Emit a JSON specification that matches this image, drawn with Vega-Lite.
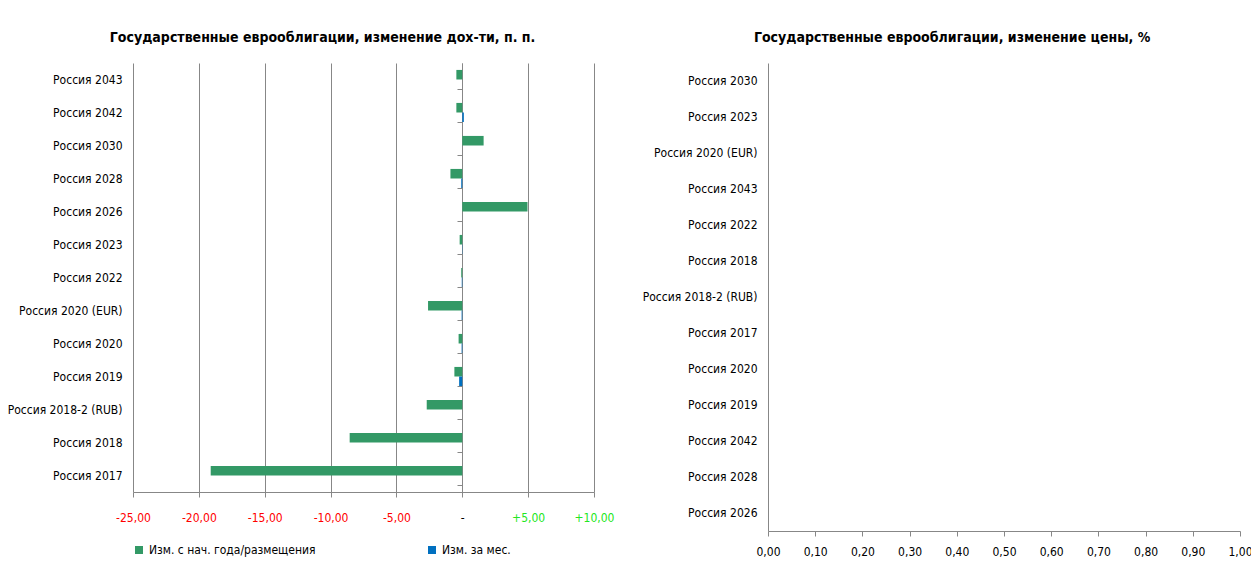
{
  "$schema": "https://vega.github.io/schema/vega-lite/v6.json",
  "padding": {"left": 7, "top": 31, "right": 5, "bottom": 0},
  "background": "white",
  "config": {
    "font": "DejaVu Sans Condensed, DejaVu Sans, sans-serif",
    "view": {"stroke": null},
    "axis": {"labelFontSize": 12, "labelColor": "black", "domainColor": "#878787", "tickColor": "#878787", "gridColor": "#878787"},
    "title": {"fontSize": 14, "fontWeight": "bold", "color": "black"},
    "legend": {"labelFontSize": 12, "labelColor": "black", "labelLimit": 0}
  },
  "datasets": {
    "left": [
      {"bond": "Россия 2043", "series": "Изм. с нач. года/размещения", "value": -0.45},
      {"bond": "Россия 2043", "series": "Изм. за мес.", "value": 0.0},
      {"bond": "Россия 2042", "series": "Изм. с нач. года/размещения", "value": -0.45},
      {"bond": "Россия 2042", "series": "Изм. за мес.", "value": 0.12},
      {"bond": "Россия 2030", "series": "Изм. с нач. года/размещения", "value": 1.62},
      {"bond": "Россия 2030", "series": "Изм. за мес.", "value": 0.0},
      {"bond": "Россия 2028", "series": "Изм. с нач. года/размещения", "value": -0.9},
      {"bond": "Россия 2028", "series": "Изм. за мес.", "value": -0.08},
      {"bond": "Россия 2026", "series": "Изм. с нач. года/размещения", "value": 4.95},
      {"bond": "Россия 2026", "series": "Изм. за мес.", "value": 0.0},
      {"bond": "Россия 2023", "series": "Изм. с нач. года/размещения", "value": -0.2},
      {"bond": "Россия 2023", "series": "Изм. за мес.", "value": -0.02},
      {"bond": "Россия 2022", "series": "Изм. с нач. года/размещения", "value": -0.08},
      {"bond": "Россия 2022", "series": "Изм. за мес.", "value": -0.04},
      {"bond": "Россия 2020 (EUR)", "series": "Изм. с нач. года/размещения", "value": -2.6},
      {"bond": "Россия 2020 (EUR)", "series": "Изм. за мес.", "value": -0.05},
      {"bond": "Россия 2020", "series": "Изм. с нач. года/размещения", "value": -0.28},
      {"bond": "Россия 2020", "series": "Изм. за мес.", "value": -0.05},
      {"bond": "Россия 2019", "series": "Изм. с нач. года/размещения", "value": -0.6},
      {"bond": "Россия 2019", "series": "Изм. за мес.", "value": -0.24},
      {"bond": "Россия 2018-2 (RUB)", "series": "Изм. с нач. года/размещения", "value": -2.7},
      {"bond": "Россия 2018-2 (RUB)", "series": "Изм. за мес.", "value": 0.0},
      {"bond": "Россия 2018", "series": "Изм. с нач. года/размещения", "value": -8.55},
      {"bond": "Россия 2018", "series": "Изм. за мес.", "value": 0.0},
      {"bond": "Россия 2017", "series": "Изм. с нач. года/размещения", "value": -19.1},
      {"bond": "Россия 2017", "series": "Изм. за мес.", "value": 0.0}
    ],
    "right": [
      {"bond": "Россия 2030", "value": 0},
      {"bond": "Россия 2023", "value": 0},
      {"bond": "Россия 2020 (EUR)", "value": 0},
      {"bond": "Россия 2043", "value": 0},
      {"bond": "Россия 2022", "value": 0},
      {"bond": "Россия 2018", "value": 0},
      {"bond": "Россия 2018-2 (RUB)", "value": 0},
      {"bond": "Россия 2017", "value": 0},
      {"bond": "Россия 2020", "value": 0},
      {"bond": "Россия 2019", "value": 0},
      {"bond": "Россия 2042", "value": 0},
      {"bond": "Россия 2028", "value": 0},
      {"bond": "Россия 2026", "value": 0}
    ]
  },
  "spacing": 28,
  "resolve": {"scale": {"color": "independent"}, "legend": {"color": "independent"}},
  "hconcat": [
    {
      "width": 461,
      "height": 429,
      "title": {"text": "Государственные еврооблигации, изменение дох-ти, п. п.", "anchor": "middle", "frame": "bounds", "offset": 18, "dx": 12},
      "data": {"name": "left"},
      "layer": [
        {
          "mark": {"type": "bar"},
          "encoding": {
            "y": {
              "field": "bond", "type": "nominal",
              "sort": ["Россия 2043", "Россия 2042", "Россия 2030", "Россия 2028", "Россия 2026", "Россия 2023", "Россия 2022", "Россия 2020 (EUR)", "Россия 2020", "Россия 2019", "Россия 2018-2 (RUB)", "Россия 2018", "Россия 2017"],
              "scale": {"paddingInner": 0.42, "paddingOuter": 0.21},
              "axis": {"title": null, "domain": false, "ticks": false, "labelPadding": 11}
            },
            "yOffset": {"field": "series", "type": "nominal", "sort": ["Изм. с нач. года/размещения", "Изм. за мес."]},
            "x": {
              "field": "value", "type": "quantitative",
              "scale": {"domain": [-25, 10], "nice": false, "zero": false},
              "axis": {
                "title": null,
                "values": [-25, -20, -15, -10, -5, 0, 5, 10],
                "grid": true,
                "tickSize": 5,
                "labelPadding": 15,
                "labelFlush": false,
                "labelExpr": "datum.value < 0 ? '-' + replace(format(abs(datum.value), '.2f'), '.', ',') : datum.value > 0 ? '+' + replace(format(datum.value, '.2f'), '.', ',') : '-'",
                "labelColor": {"condition": [{"test": "datum.value < 0", "value": "#ff0000"}, {"test": "datum.value > 0", "value": "#22e622"}], "value": "black"}
              }
            },
            "color": {
              "field": "series", "type": "nominal",
              "scale": {"domain": ["Изм. с нач. года/размещения", "Изм. за мес."], "range": ["#339966", "#0070C0"]},
              "legend": {"title": null, "orient": "bottom", "direction": "horizontal", "symbolType": "square", "symbolSize": 64, "columnPadding": 110, "offset": 21, "symbolStrokeWidth": 0}
            }
          }
        },
        {
          "mark": {"type": "point", "opacity": 0},
          "encoding": {
            "y": {
              "field": "bond", "type": "nominal",
              "sort": ["Россия 2043", "Россия 2042", "Россия 2030", "Россия 2028", "Россия 2026", "Россия 2023", "Россия 2022", "Россия 2020 (EUR)", "Россия 2020", "Россия 2019", "Россия 2018-2 (RUB)", "Россия 2018", "Россия 2017"],
              "axis": {"orient": "left", "offset": -329, "labels": false, "title": null, "domain": true, "ticks": true, "tickBand": "extent", "tickSize": 5, "grid": false}
            },
            "x": {"datum": 0, "type": "quantitative"}
          }
        }
      ],
      "resolve": {"axis": {"y": "independent"}}
    },
    {
      "width": 472,
      "height": 468,
      "title": {"text": "Государственные еврооблигации, изменение цены, %", "anchor": "middle", "frame": "bounds", "offset": 18, "dx": 5},
      "data": {"name": "right"},
      "mark": {"type": "bar", "opacity": 0},
      "encoding": {
        "y": {"field": "bond", "type": "nominal", "sort": null, "axis": {"title": null, "ticks": false, "labelPadding": 11}},
        "x": {
          "field": "value", "type": "quantitative",
          "scale": {"domain": [0, 1], "nice": false},
          "axis": {"title": null, "values": [0, 0.1, 0.2, 0.3, 0.4, 0.5, 0.6, 0.7, 0.8, 0.9, 1], "grid": false, "tickSize": 5, "labelPadding": 10, "labelFlush": false, "labelExpr": "replace(format(datum.value, '.2f'), '.', ',')"}
        }
      }
    }
  ]
}
